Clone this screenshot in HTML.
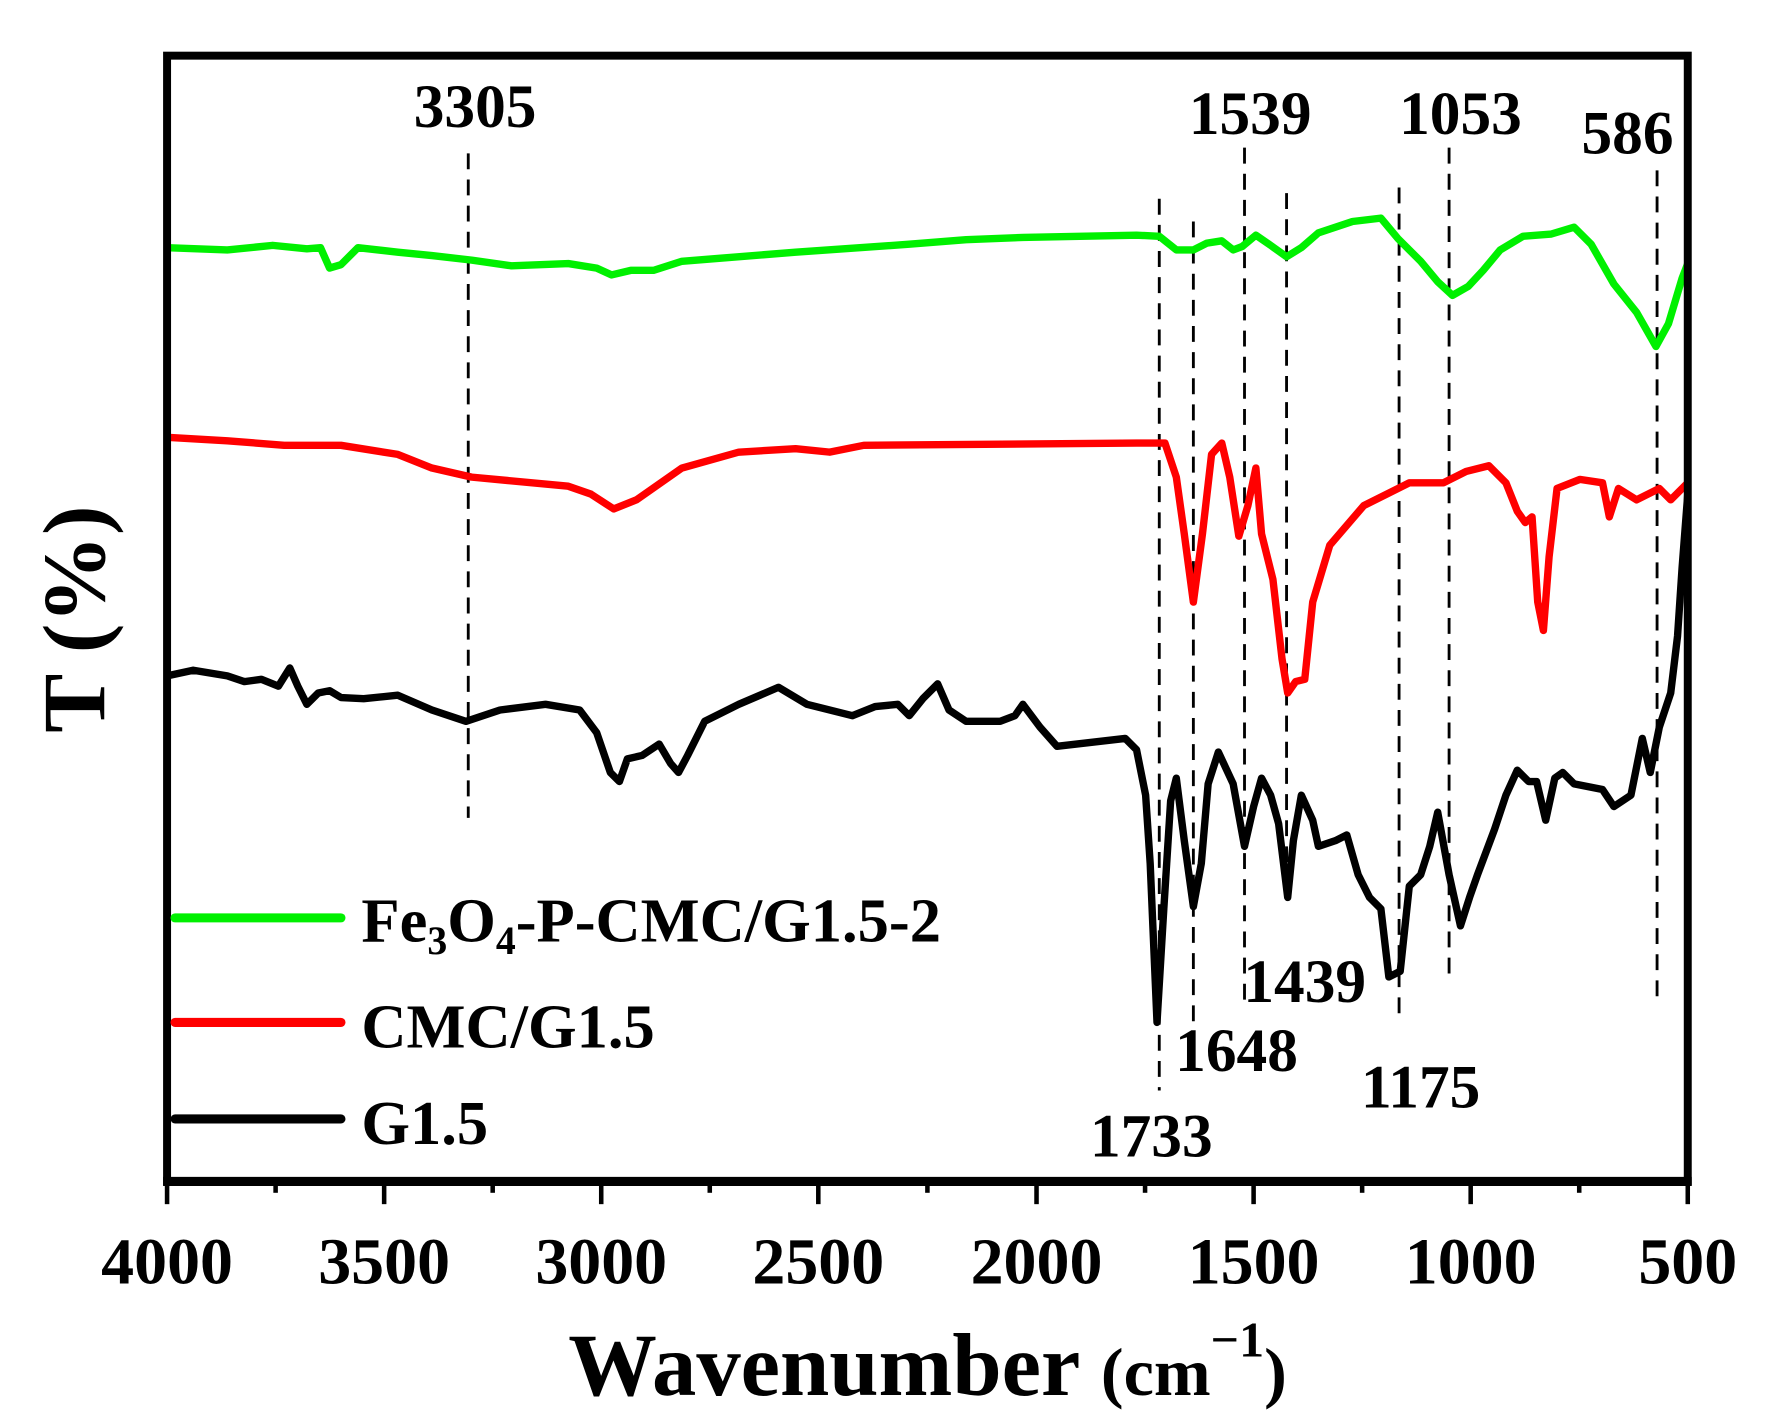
<!DOCTYPE html>
<html><head><meta charset="utf-8"><style>html,body{margin:0;padding:0;background:#fff}svg{display:block}</style></head>
<body>
<svg width="1773" height="1420" viewBox="0 0 1560 1250" preserveAspectRatio="none" xmlns="http://www.w3.org/2000/svg" font-family="Liberation Serif, serif" font-weight="bold">
<rect width="1560" height="1250" fill="#fff"/>
<g stroke="#000" stroke-width="2.5" stroke-dasharray="14,9" fill="none">
<line x1="412" y1="135" x2="412" y2="720"/>
<line x1="1020" y1="175" x2="1020" y2="960"/>
<line x1="1050" y1="195" x2="1050" y2="910"/>
<line x1="1095" y1="130" x2="1095" y2="885"/>
<line x1="1132" y1="170" x2="1132" y2="790"/>
<line x1="1231" y1="165" x2="1231" y2="900"/>
<line x1="1275" y1="130" x2="1275" y2="865"/>
<line x1="1458" y1="150" x2="1458" y2="880"/>
</g>
<g fill="none" stroke-width="6.5" stroke-linejoin="round">
<polyline stroke="#00f000" points="147,218 200,220 240,216 270,219 282,218 290,236 300,233 315,218 350,222 380,225 415,229 450,234 500,232 525,236 538,242 555,238 575,238 600,230 700,222 800,215 850,211 900,209 1000,207 1020,208 1035,220 1050,220 1062,214 1075,212 1085,220 1093,217 1105,207 1118,216 1132,226 1145,218 1160,205 1190,195 1215,192 1230,210 1250,230 1265,248 1278,260 1292,252 1305,238 1320,220 1340,208 1365,206 1385,200 1400,215 1420,250 1440,275 1457,305 1468,285 1480,245 1485,232"/>
<polyline stroke="#ff0000" points="147,385 200,388 250,392 300,392 350,400 380,412 415,420 500,428 520,435 540,448 560,440 600,412 650,398 700,395 730,398 760,392 1000,390 1025,390 1035,420 1042,470 1050,530 1058,470 1066,400 1075,390 1082,420 1090,472 1098,445 1105,412 1110,470 1120,510 1128,580 1133,610 1140,600 1148,598 1155,530 1170,480 1200,445 1240,425 1270,425 1290,415 1310,410 1325,425 1335,450 1342,460 1348,455 1353,530 1358,555 1363,490 1370,430 1390,422 1410,425 1416,455 1424,430 1440,440 1460,430 1470,440 1485,425"/>
<polyline stroke="#000" points="147,595 170,590 200,595 215,600 230,598 245,604 255,588 262,604 270,620 280,610 290,608 300,614 320,615 350,612 380,625 410,635 440,625 480,620 510,625 525,645 537,680 545,688 552,668 565,665 580,655 590,672 597,680 605,665 620,635 650,620 685,605 710,620 750,630 770,622 790,620 800,630 812,615 825,602 835,625 850,635 880,635 893,630 900,620 915,640 930,657 990,650 1000,660 1008,700 1012,760 1018,900 1024,800 1030,705 1035,685 1042,740 1050,798 1057,760 1063,690 1072,662 1085,690 1095,745 1103,710 1110,685 1118,700 1125,725 1133,790 1138,740 1145,700 1155,722 1160,745 1175,740 1185,735 1195,770 1205,790 1215,800 1222,860 1232,855 1240,780 1250,770 1258,745 1265,715 1275,770 1285,815 1293,790 1300,770 1315,730 1325,700 1335,678 1345,688 1352,688 1360,722 1368,685 1375,680 1385,690 1410,695 1420,710 1435,700 1445,650 1452,680 1460,640 1470,610 1476,560 1480,500 1485,435"/>
</g>
<rect x="147" y="49" width="1338" height="991" fill="none" stroke="#000" stroke-width="7"/>
<line x1="143.5" y1="1040" x2="1488.5" y2="1040" stroke="#000" stroke-width="8"/>
<g stroke="#000" stroke-width="4">
<line x1="147" y1="1040" x2="147" y2="1060"/><line x1="338" y1="1040" x2="338" y2="1060"/><line x1="529" y1="1040" x2="529" y2="1060"/><line x1="720" y1="1040" x2="720" y2="1060"/><line x1="912" y1="1040" x2="912" y2="1060"/><line x1="1103" y1="1040" x2="1103" y2="1060"/><line x1="1294" y1="1040" x2="1294" y2="1060"/><line x1="1485" y1="1040" x2="1485" y2="1060"/>
<line x1="242.5" y1="1040" x2="242.5" y2="1050"/><line x1="433.5" y1="1040" x2="433.5" y2="1050"/><line x1="624.5" y1="1040" x2="624.5" y2="1050"/><line x1="816" y1="1040" x2="816" y2="1050"/><line x1="1007.5" y1="1040" x2="1007.5" y2="1050"/><line x1="1198.5" y1="1040" x2="1198.5" y2="1050"/><line x1="1389.5" y1="1040" x2="1389.5" y2="1050"/>
</g>
<g font-size="58" text-anchor="middle" fill="#000">
<text x="147" y="1130">4000</text><text x="338" y="1130">3500</text><text x="529" y="1130">3000</text><text x="720" y="1130">2500</text><text x="912" y="1130">2000</text><text x="1103" y="1130">1500</text><text x="1294" y="1130">1000</text><text x="1485" y="1130">500</text>
</g>
<text x="500" y="1228" font-size="78" fill="#000">Wavenumber <tspan font-size="60">(cm</tspan><tspan font-size="44" dy="-34">−1</tspan><tspan font-size="60" dy="34">)</tspan></text>
<text transform="translate(92,545) rotate(-90)" font-size="78" text-anchor="middle" fill="#000">T (%)</text>
<g font-size="54" text-anchor="middle" fill="#000">
<text x="418" y="112">3305</text><text x="1100" y="118">1539</text><text x="1285" y="118">1053</text><text x="1432" y="135">586</text>
<text x="1148" y="882">1439</text><text x="1088" y="943">1648</text><text x="1250" y="975">1175</text><text x="1013" y="1018">1733</text>
</g>
<g stroke-width="8" stroke-linecap="round">
<line x1="154" y1="808" x2="300" y2="808" stroke="#00f000"/>
<line x1="154" y1="900" x2="300" y2="900" stroke="#ff0000"/>
<line x1="154" y1="985" x2="300" y2="985" stroke="#000"/>
</g>
<g font-size="55" fill="#000">
<text x="318" y="829">Fe<tspan font-size="35" dy="11">3</tspan><tspan dy="-11">O</tspan><tspan font-size="35" dy="11">4</tspan><tspan dy="-11">-P-CMC/G1.5-2</tspan></text>
<text x="318" y="922">CMC/G1.5</text>
<text x="318" y="1007">G1.5</text>
</g>
</svg>
</body></html>
